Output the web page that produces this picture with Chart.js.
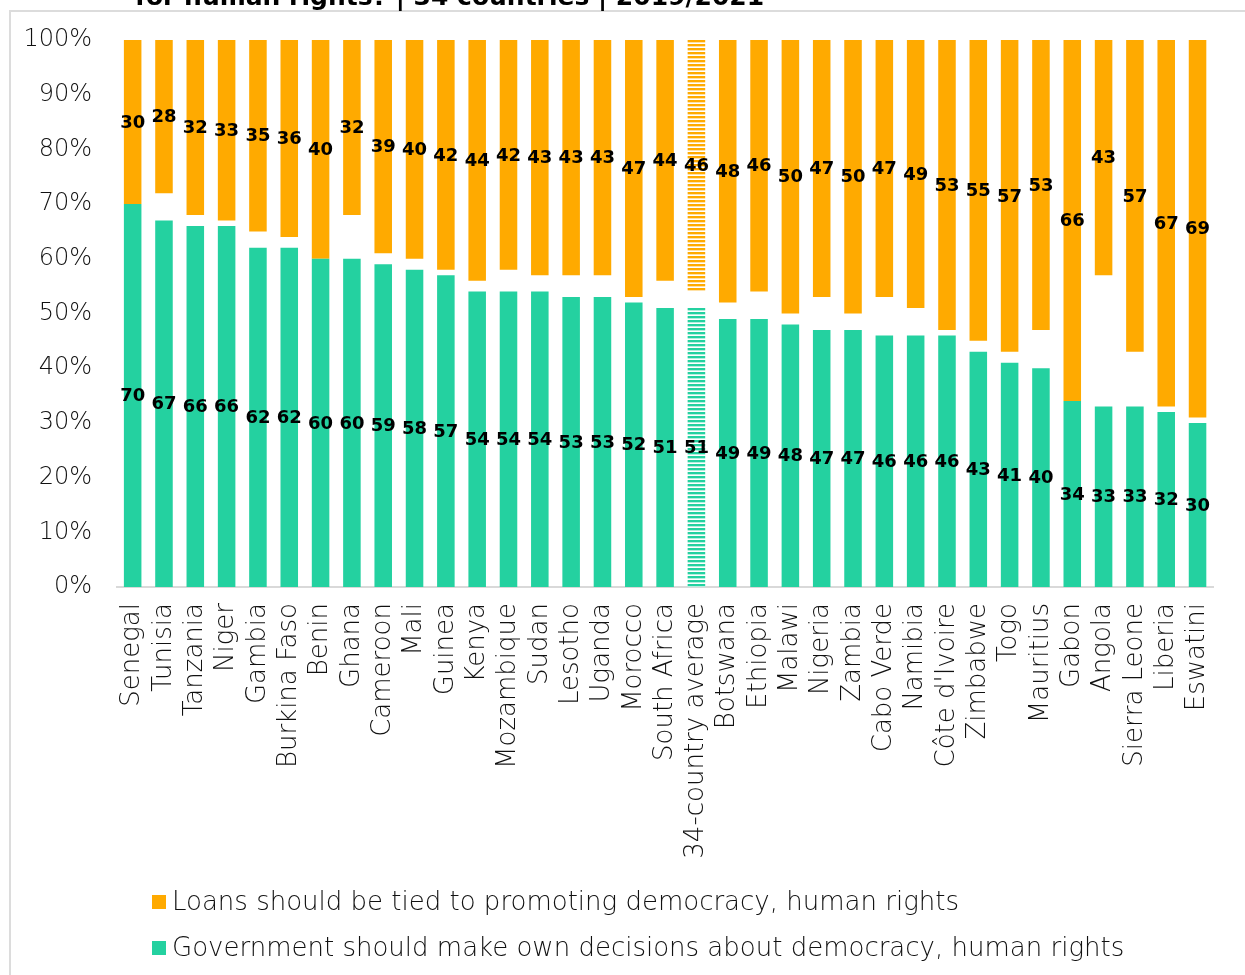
<!DOCTYPE html>
<html>
<head>
<meta charset="utf-8">
<title>Loans and human rights</title>
<script src="https://cdn.jsdelivr.net/npm/chart.js@4.4.1/dist/chart.umd.min.js"></script>
<style>
  html, body { margin: 0; padding: 0; background: #ffffff; }
  #wrap { width: 1245px; height: 975px; position: relative; }
</style>
</head>
<body>
<div id="wrap"><canvas id="chart" width="1245" height="975"></canvas></div>
<script>
// Countries ordered by the share saying governments should decide for themselves
const categories = [
  'Senegal', 'Tunisia', 'Tanzania', 'Niger', 'Gambia', 'Burkina Faso', 'Benin',
  'Ghana', 'Cameroon', 'Mali', 'Guinea', 'Kenya', 'Mozambique', 'Sudan',
  'Lesotho', 'Uganda', 'Morocco', 'South Africa', '34-country average',
  'Botswana', 'Ethiopia', 'Malawi', 'Nigeria', 'Zambia', 'Cabo Verde',
  'Namibia', "Côte d'Ivoire", 'Zimbabwe', 'Togo', 'Mauritius', 'Gabon',
  'Angola', 'Sierra Leone', 'Liberia', 'Eswatini'
];

// % "Government should make own decisions about democracy, human rights"
const ownDecisions = [
  70, 67, 66, 66, 62, 62, 60, 60, 59, 58, 57, 54, 54, 54, 53, 53, 52, 51, 51,
  49, 49, 48, 47, 47, 46, 46, 46, 43, 41, 40, 34, 33, 33, 32, 30
];

// % "Loans should be tied to promoting democracy, human rights"
const tiedLoans = [
  30, 28, 32, 33, 35, 36, 40, 32, 39, 40, 42, 44, 42, 43, 43, 43, 47, 44, 46,
  48, 46, 50, 47, 50, 47, 49, 53, 55, 57, 53, 66, 43, 57, 67, 69
];

const averageLabel = '34-country average';
const yTickValues = [0, 10, 20, 30, 40, 50, 60, 70, 80, 90, 100];

const seriesNames = {
  tied: 'Loans should be tied to promoting democracy, human rights',
  own: 'Government should make own decisions about democracy, human rights'
};

const subtitleText = 'for human rights? | 34 countries | 2019/2021';

const ORANGE = '#FFAA00';
const GREEN = '#24D1A0';
const FONT = '"DejaVu Sans", "Liberation Sans", sans-serif';
const LIGHT = '200 ';

// Horizontal stripe fill used for the cross-country average bar
function stripes(color) {
  const c = document.createElement('canvas');
  c.width = 4; c.height = 4;
  const g = c.getContext('2d');
  g.fillStyle = '#ffffff';
  g.fillRect(0, 0, 4, 4);
  g.fillStyle = color;
  g.fillRect(0, 0, 4, 2);
  g.globalAlpha = 0.35;
  g.fillRect(0, 2, 4, 1);
  return g.createPattern(c, 'repeat');
}

function fillsFor(color) {
  const pat = stripes(color);
  return categories.map(c => (c === averageLabel ? pat : color));
}

// Page frame and the tail of the heading above it
const framePlugin = {
  id: 'frame',
  beforeDraw(chart) {
    const ctx = chart.ctx;
    ctx.save();
    ctx.fillStyle = '#ffffff';
    ctx.fillRect(0, 0, chart.width, chart.height);
    ctx.strokeStyle = '#dcdcdc';
    ctx.lineWidth = 2;
    ctx.beginPath();
    ctx.moveTo(10, chart.height);
    ctx.lineTo(10, 11);
    ctx.lineTo(chart.width, 11);
    ctx.stroke();
    ctx.fillStyle = '#000000';
    ctx.font = 'bold 25px ' + FONT;
    ctx.textAlign = 'left';
    ctx.textBaseline = 'alphabetic';
    ctx.fillText(subtitleText, 135, 4.5, 630);
    ctx.restore();
  }
};

// Value printed in the middle of each bar segment
const valueLabelPlugin = {
  id: 'valueLabels',
  afterDatasetsDraw(chart) {
    const ctx = chart.ctx;
    ctx.save();
    ctx.font = 'bold 18px ' + FONT;
    ctx.fillStyle = '#000000';
    ctx.textAlign = 'center';
    ctx.textBaseline = 'middle';
    chart.data.datasets.forEach((ds, di) => {
      const meta = chart.getDatasetMeta(di);
      meta.data.forEach((bar, i) => {
        const p = bar.getProps(['x', 'y', 'base'], true);
        ctx.fillText(String(ds.shownValues[i]), p.x, (p.y + p.base) / 2 + 1);
      });
    });
    ctx.restore();
  }
};

// Two-row legend under the axis labels
const legendPlugin = {
  id: 'stackLegend',
  afterDraw(chart) {
    const ctx = chart.ctx;
    const order = [1, 0];
    const rowY = [902, 948];
    ctx.save();
    ctx.font = LIGHT + '26px ' + FONT;
    ctx.textAlign = 'left';
    ctx.textBaseline = 'middle';
    order.forEach((di, r) => {
      const ds = chart.data.datasets[di];
      ctx.fillStyle = ds.legendColor;
      ctx.fillRect(152, rowY[r] - 7, 14, 14);
      ctx.fillStyle = '#111111';
      ctx.fillText(ds.label, 172, rowY[r] + 1);
    });
    ctx.restore();
  }
};

const ctx = document.getElementById('chart').getContext('2d');

new Chart(ctx, {
  type: 'bar',
  data: {
    labels: categories,
    datasets: [
      {
        label: seriesNames.own,
        data: ownDecisions,
        shownValues: ownDecisions,
        legendColor: GREEN,
        backgroundColor: fillsFor(GREEN),
        borderWidth: 0
      },
      {
        label: seriesNames.tied,
        // drawn downward from the 100% line
        data: tiedLoans.map(v => [100 - v, 100]),
        shownValues: tiedLoans,
        legendColor: ORANGE,
        backgroundColor: fillsFor(ORANGE),
        borderWidth: 0
      }
    ]
  },
  options: {
    responsive: false,
    animation: false,
    events: [],
    datasets: {
      bar: { grouped: false, barPercentage: 0.56, categoryPercentage: 1.0 }
    },
    layout: { padding: { top: 40, right: 18, left: 0, bottom: 0 } },
    plugins: {
      legend: { display: false },
      tooltip: { enabled: false },
      title: { display: false }
    },
    scales: {
      x: {
        grid: { display: false, drawTicks: false },
        border: { display: true, color: '#d9d9d9', width: 2 },
        ticks: {
          autoSkip: false,
          maxRotation: 90,
          minRotation: 90,
          padding: 16,
          color: '#111111',
          font: { family: FONT, size: 26, weight: '200' }
        },
        afterFit(scale) { scale.height = 388; }
      },
      y: {
        min: 0,
        max: 100,
        afterBuildTicks(scale) {
          scale.ticks = yTickValues.map(v => ({ value: v }));
        },
        grid: { display: false, drawTicks: false },
        border: { display: false },
        ticks: {
          padding: 25,
          color: '#111111',
          font: { family: FONT, size: 24, weight: '200' },
          callback: v => v + '%'
        },
        afterFit(scale) { scale.width = 117; }
      }
    }
  },
  plugins: [framePlugin, valueLabelPlugin, legendPlugin]
});
</script>
</body>
</html>
